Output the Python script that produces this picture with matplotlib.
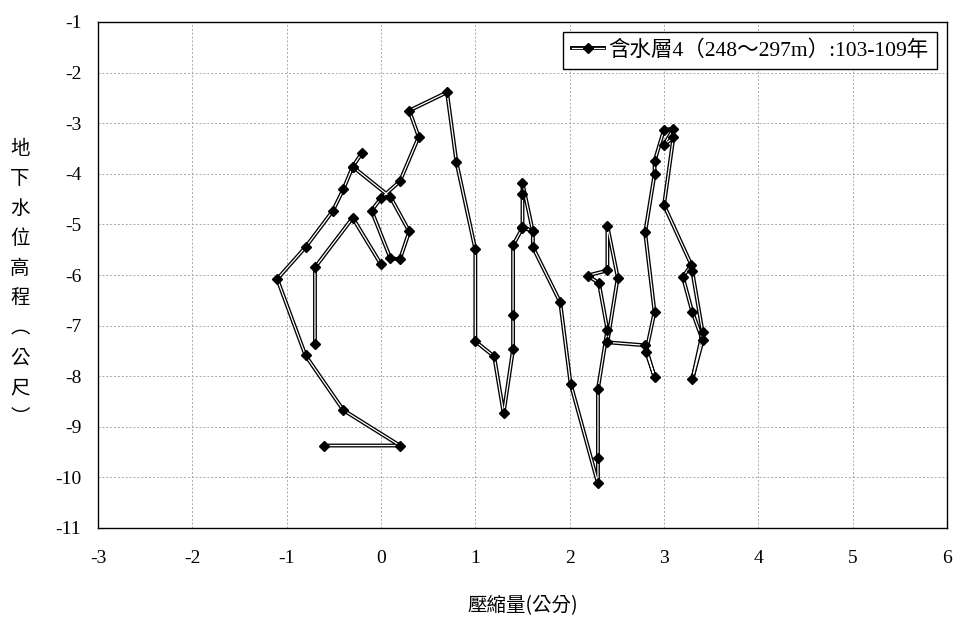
import numpy as np
import matplotlib
matplotlib.use("Agg")
import matplotlib.pyplot as plt
from matplotlib.lines import Line2D

OUTPUT_FIG = "out.png"

# Compaction (cm) vs groundwater level (m); gaps = missing records
seg1_compaction = [-0.70, -0.70, -0.30, 0.00]
seg1_level = [-7.36, -5.85, -4.87, -5.79]

seg2_compaction = [-0.60, 0.20, -0.40, -0.80, -1.10, -0.80, -0.51, -0.40, -0.30]
seg2_level = [-9.37, -9.37, -8.67, -7.59, -6.08, -5.45, -4.73, -4.31, -3.86]

seg3_compaction = [
    -0.20, -0.30, 0.10, 0.30, 0.20, 0.10, -0.10, 0.00, 0.20, 0.40, 0.30, 0.70,
    0.80, 1.00, 1.00, 1.20, 1.30, 1.40, 1.40, 1.40, 1.50, 1.50, 1.50, 1.61,
    1.50, 1.61, 1.61, 1.90, 2.01, 2.30, 2.30, 2.30, 2.40, 2.31, 2.19, 2.40,
    2.40, 2.51, 2.40, 2.80, 2.90, 2.81, 2.90, 2.80, 2.90, 2.90, 3.00, 3.10,
    3.00, 3.10, 3.00, 3.29, 3.20, 3.30, 3.41, 3.30, 3.41, 3.30,
]
seg3_level = [
    -3.58, -3.86, -4.46, -5.14, -5.69, -5.67, -4.73, -4.48, -4.15, -3.27, -2.75, -2.39,
    -3.77, -5.49, -7.31, -7.61, -8.73, -7.47, -6.79, -5.41, -5.07, -4.39, -4.18, -5.14,
    -5.05, -5.14, -5.45, -6.54, -8.15, -10.12, -9.62, -8.25, -7.08, -6.16, -6.01, -5.91,
    -5.03, -6.05, -7.33, -7.39, -8.01, -7.52, -6.73, -5.16, -4.01, -3.75, -3.13, -3.11,
    -3.43, -3.28, -4.62, -5.80, -6.04, -6.73, -7.29, -8.06, -7.13, -5.93,
]

X_TICKS = list(range(-3, 7))
Y_TICKS = list(range(-11, 0))
LEGEND_LABEL = "含水層4（248～297m）:103-109年"
XLABEL = "壓縮量(公分)"
YLABEL = "地下水位高程︵公尺︶"

SERIF = ["Liberation Serif", "Noto Sans CJK TC"]
CJK = ["Noto Sans CJK TC", "DejaVu Sans"]


def draw_double_line(ax, x, y):
    ax.plot(x, y, color="black", linewidth=2.8, solid_joinstyle="round", zorder=3)
    ax.plot(x, y, color="white", linewidth=0.9, solid_joinstyle="round", zorder=4)
    ax.plot(x, y, linestyle="none", marker="D", markersize=5,
            color="black", zorder=5)


def main():
    plt.rcParams["axes.unicode_minus"] = False
    fig = plt.figure(figsize=(9.78, 6.39), dpi=100)
    ax = fig.add_axes([98 / 978, 1 - 528 / 639, 849 / 978, 506 / 639])

    segments = [
        (seg1_compaction, seg1_level),
        (seg2_compaction, seg2_level),
        (seg3_compaction, seg3_level),
    ]
    for xs, ys in segments:
        draw_double_line(ax, np.array(xs), np.array(ys))

    ax.set_xlim(-3, 6)
    ax.set_ylim(-11, -1)
    ax.set_xticks(X_TICKS)
    ax.set_yticks(Y_TICKS)
    ax.set_xticklabels([str(v) for v in X_TICKS], family=SERIF, fontsize=14)
    ax.set_yticklabels([str(v) for v in Y_TICKS], family=SERIF, fontsize=14)
    ax.tick_params(axis="x", length=0, pad=16)
    ax.tick_params(axis="y", length=0, pad=12)
    ax.grid(True, color="#a8a8a8", linestyle=(0, (2, 2)), linewidth=0.7)
    ax.set_axisbelow(True)
    for sp in ax.spines.values():
        sp.set_color("black")
        sp.set_linewidth(1.0)

    ax.set_xlabel(XLABEL, family=CJK, fontsize=14, labelpad=20)

    # stacked vertical y label
    fig.text(20 / 978, 1 - 283 / 639, "\n".join(YLABEL), family=CJK, fontsize=14,
             ha="center", va="center", linespacing=1.56)

    h_black = Line2D([], [], color="black", linewidth=2.8)
    h_white = Line2D([], [], color="white", linewidth=0.9)
    h_mark = Line2D([], [], linestyle="none", marker="D", markersize=5, color="black")
    leg = ax.legend([(h_black, h_white, h_mark)], [LEGEND_LABEL], loc="upper right",
                    prop={"family": SERIF, "size": 15.5}, fancybox=False,
                    framealpha=1, edgecolor="black", handlelength=1.5,
                    handletextpad=0.2, borderaxespad=0.45, borderpad=0.4)
    leg.get_frame().set_linewidth(1.0)

    fig.savefig(OUTPUT_FIG, dpi=100)
    print(f"Saved: {OUTPUT_FIG}")


if __name__ == "__main__":
    main()
